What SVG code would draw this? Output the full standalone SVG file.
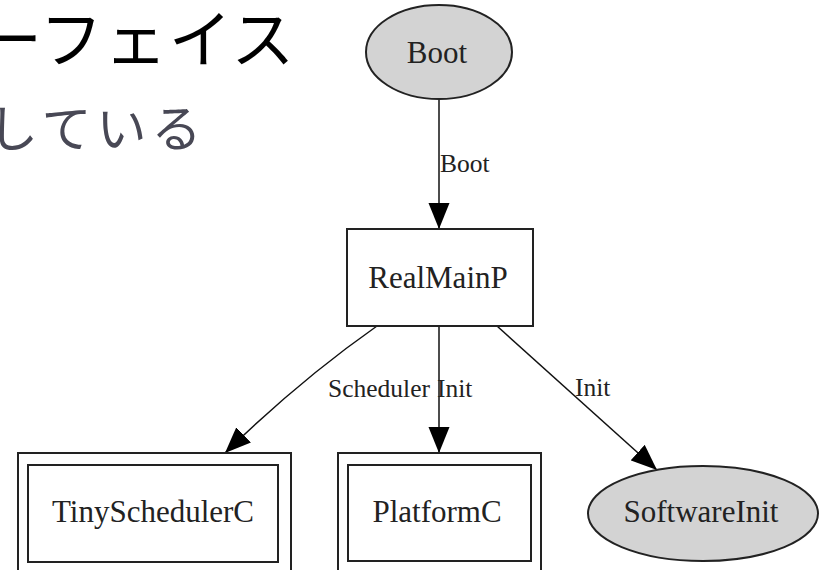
<svg xmlns="http://www.w3.org/2000/svg" width="819" height="570" viewBox="0 0 819 570">
<style>
.title{font-family:"Noto Sans CJK JP","Noto Sans",sans-serif;font-size:63px;letter-spacing:1.5px;fill:#000}
.sub{font-family:"Noto Sans CJK JP","Noto Sans",sans-serif;font-size:50px;letter-spacing:5px;fill:#484855}
.nl{font-family:"Liberation Serif","Times New Roman",serif;font-size:31px;fill:#222;text-anchor:middle}
.el{font-family:"Liberation Serif","Times New Roman",serif;font-size:25.5px;fill:#222}
.ell{fill:#d3d3d3;stroke:#222;stroke-width:2}
.box{fill:#fff;stroke:#222;stroke-width:2}
.edge{fill:none;stroke:#111;stroke-width:1.5}
</style>
<defs>
<marker id="arr" markerUnits="userSpaceOnUse" markerWidth="27" markerHeight="22" refX="26" refY="11" orient="auto" viewBox="0 0 27 22">
<path d="M0,0.5 L26,11 L0,21.5 z" fill="#000"/>
</marker>
</defs>
<rect width="819" height="570" fill="#fff"/>
<text class="title" x="-21" y="62">ーフェイス</text>
<text class="sub" x="-12" y="147">している</text>
<g id="connectors">
<path class="edge" d="M439,99 L439,229" marker-end="url(#arr)"/>
<path class="edge" d="M377,326 Q300,380 225,453" marker-end="url(#arr)"/>
<path class="edge" d="M439,326 L439,453" marker-end="url(#arr)"/>
<path class="edge" d="M497,326 L657,470" marker-end="url(#arr)"/>
<text class="el" x="440" y="172">Boot</text>
<text class="el" x="328" y="397">Scheduler</text>
<text class="el" x="437" y="397">Init</text>
<text class="el" x="575" y="396">Init</text>
</g>
<g id="Boot">
<ellipse class="ell" cx="439" cy="52" rx="73" ry="47"/>
<text class="nl" x="437" y="63">Boot</text>
</g>
<g id="RealMainP">
<rect class="box" x="347" y="229" width="186" height="97"/>
<text class="nl" x="438" y="288">RealMainP</text>
</g>
<g id="TinySchedulerC">
<rect class="box" x="18" y="453" width="273" height="125"/>
<rect class="box" x="28" y="465" width="250" height="97"/>
<text class="nl" x="153" y="522">TinySchedulerC</text>
</g>
<g id="PlatformC">
<rect class="box" x="338" y="453" width="203" height="125"/>
<rect class="box" x="348" y="465" width="183" height="96"/>
<text class="nl" x="437" y="522">PlatformC</text>
</g>
<g id="SoftwareInit">
<ellipse class="ell" cx="703" cy="513.5" rx="115" ry="47.5"/>
<text class="nl" x="701" y="522">SoftwareInit</text>
</g>
</svg>
